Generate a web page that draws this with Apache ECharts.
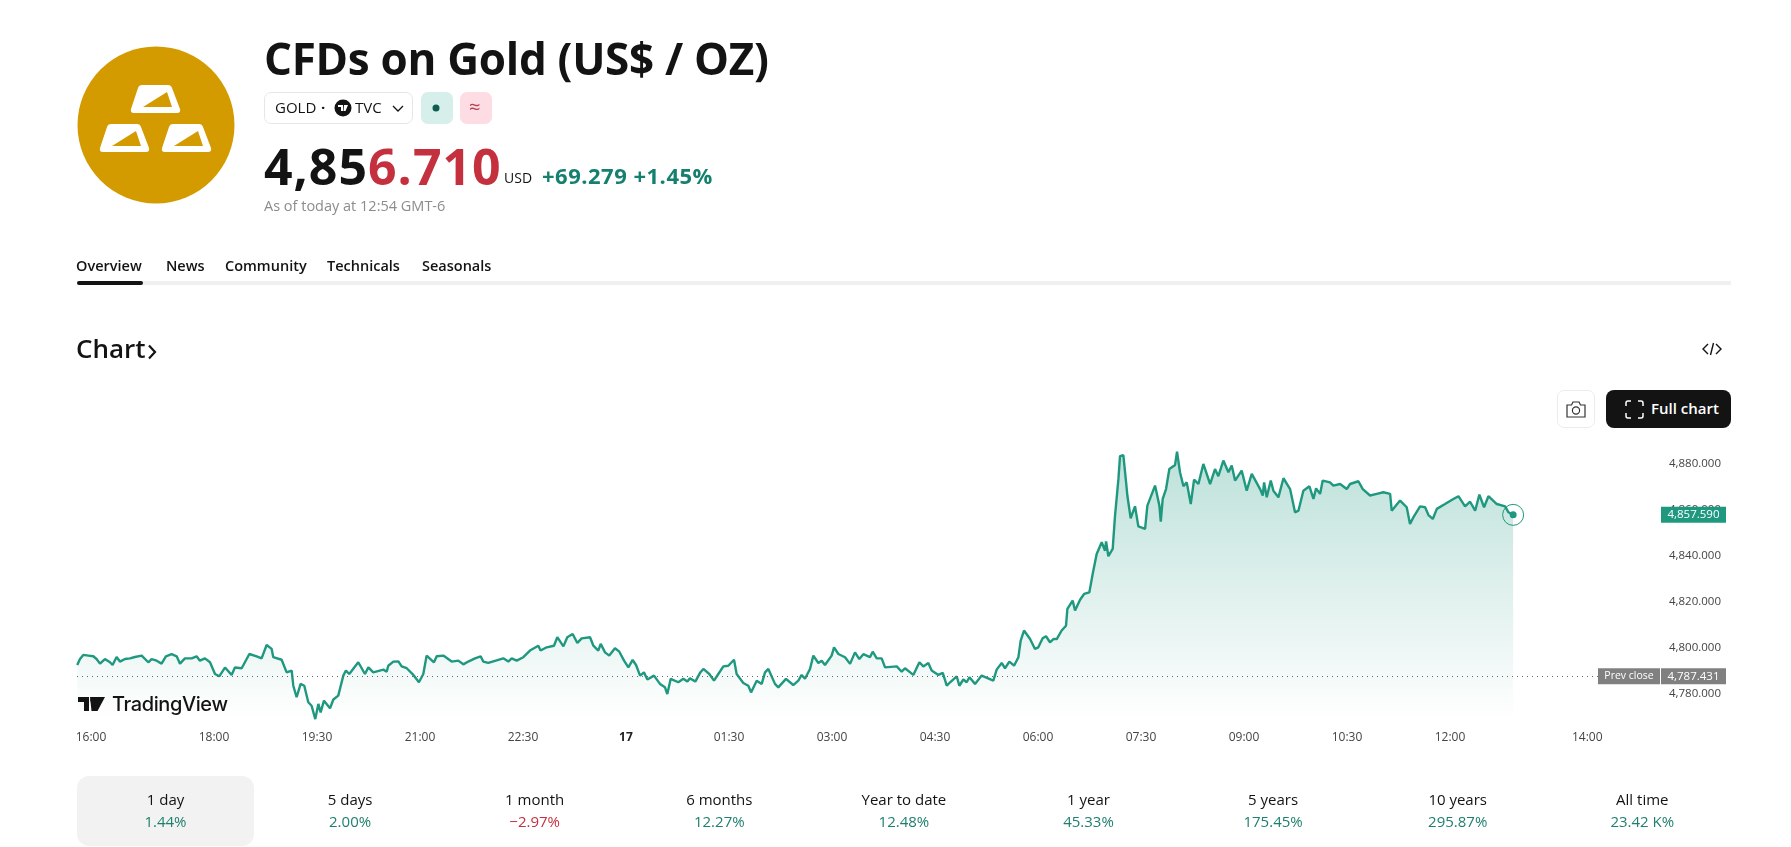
<!DOCTYPE html>
<html>
<head>
<meta charset="utf-8">
<title>CFDs on Gold (US$ / OZ)</title>
<script src="https://cdn.jsdelivr.net/npm/echarts@6/dist/echarts.min.js"></script>
<style>
  html, body { margin: 0; padding: 0; background: #fff; }
  body { width: 1791px; height: 847px; position: relative; overflow: hidden; font-family: "Open Sans", sans-serif; color: #131313; }
  #chart { position: absolute; left: 0; top: 0; width: 1791px; height: 847px; }
  .t { position: absolute; white-space: nowrap; line-height: 1; }
  .box { position: absolute; box-sizing: border-box; }
  svg { position: absolute; overflow: visible; }
  .period { position: absolute; top: 776px; width: 177px; height: 70px; border-radius: 12px; text-align: center; }
  .period.active { background: #f2f2f2; }
  .period .name { position: absolute; left: 0; right: 0; top: 15px; font-size: 15px; line-height: 16px; }
  .period .chg { position: absolute; left: 0; right: 0; top: 37px; font-size: 15px; line-height: 16px; }
  .up { color: #1f7f6e; }
  .down { color: #c5303f; }
</style>
</head>
<body>
<div id="chart"></div>

<!-- header -->
<svg style="left:0;top:0" width="300" height="220">
  <circle cx="156" cy="125" r="78.5" fill="#d39b00"/>
  <g id="bars"></g>
</svg>
<div class="t" style="left:264px;top:36px;font-size:44px;font-weight:700;letter-spacing:-.3px">CFDs on Gold (US$ / OZ)</div>

<div class="box" style="left:264px;top:92px;width:149px;height:32px;border:1px solid #e6e6e6;border-radius:7px"></div>
<div class="t" style="left:275px;top:100px;font-size:15px">GOLD</div>
<div class="t" style="left:321px;top:100px;font-size:15px;font-weight:700">·</div>
<svg style="left:334px;top:99px" width="18" height="18"><circle cx="9" cy="9" r="8.5" fill="#131313"/><path d="M4 6h5v6H7V8H4zM10 6h4l-2.5 6H9.5z" fill="#fff"/></svg>
<div class="t" style="left:355px;top:100px;font-size:15px">TVC</div>
<svg style="left:392px;top:105px" width="12" height="8"><path d="M1 1l5 5 5-5" fill="none" stroke="#131313" stroke-width="1.3"/></svg>
<div class="box" style="left:421px;top:92px;width:32px;height:32px;background:#d6efea;border-radius:7px"></div>
<svg style="left:431px;top:103px" width="10" height="10"><circle cx="5" cy="5" r="3.5" fill="#0e5d52"/></svg>
<div class="box" style="left:460px;top:92px;width:32px;height:32px;background:#fddde3;border-radius:7px"></div>
<div class="t" style="left:469px;top:97px;font-size:20px;color:#b8404e">≈</div>

<div class="t" style="left:264px;top:141px;font-size:50px;font-weight:700;letter-spacing:1px"><span>4,85</span><span style="color:#c5303f">6.710</span></div>
<div class="t" style="left:504px;top:171px;font-size:14px">USD</div>
<div class="t" style="left:542px;top:164px;font-size:22px;font-weight:700;letter-spacing:.5px;color:#15806d">+69.279 +1.45%</div>
<div class="t" style="left:264px;top:199px;font-size:14.5px;color:#8c8c8c">As of today at 12:54 GMT-6</div>

<!-- tabs -->
<div class="t" style="left:76px;top:259px;font-size:14.5px;font-weight:600">Overview</div>
<div class="t" style="left:166px;top:259px;font-size:14.5px;font-weight:600">News</div>
<div class="t" style="left:225px;top:259px;font-size:14.5px;font-weight:600">Community</div>
<div class="t" style="left:327px;top:259px;font-size:14.5px;font-weight:600">Technicals</div>
<div class="t" style="left:422px;top:259px;font-size:14.5px;font-weight:600">Seasonals</div>
<div class="box" style="left:77px;top:281px;width:1654px;height:4px;background:#f0f0f0"></div>
<div class="box" style="left:77px;top:281px;width:66px;height:4px;background:#131313;border-radius:2px"></div>

<div class="t" style="left:76px;top:335px;font-size:26px;font-weight:600">Chart</div>
<svg style="left:147px;top:344px" width="10" height="16"><path d="M2 1.5l6 6.5-6 6.5" fill="none" stroke="#131313" stroke-width="2.2"/></svg>
<svg style="left:1702px;top:342px" width="20" height="14"><path d="M6 2L1 7l5 5M14 2l5 5-5 5M11.5 1L8.5 13" fill="none" stroke="#131313" stroke-width="1.4"/></svg>

<!-- chart buttons -->
<div class="box" style="left:1557px;top:390px;width:38px;height:38px;border:1px solid #ececec;border-radius:7px"></div>
<svg style="left:1566px;top:401px" width="20" height="17"><path d="M1 4h4.5l1.5-3h6l1.5 3H19v12H1z" fill="none" stroke="#333" stroke-width="1.2"/><circle cx="10" cy="9.5" r="3.6" fill="none" stroke="#333" stroke-width="1.2"/></svg>
<div class="box" style="left:1606px;top:390px;width:125px;height:38px;background:#131313;border-radius:8px"></div>
<svg style="left:1625px;top:400px" width="19" height="19"><path d="M1 6V3a2 2 0 0 1 2-2h3M13 1h3a2 2 0 0 1 2 2v3M18 13v3a2 2 0 0 1-2 2h-3M6 18H3a2 2 0 0 1-2-2v-3" fill="none" stroke="#fff" stroke-width="1.5"/></svg>
<div class="t" style="left:1651px;top:401px;font-size:15px;font-weight:600;color:#fff">Full chart</div>

<!-- watermark -->
<svg style="left:78px;top:696px" width="30" height="16"><path d="M0 1h11v14H6V6H0zM12 1h15l-7.5 14h-6z" fill="#131313"/><circle cx="15" cy="4" r="2.600" fill="#131313"/></svg>
<div class="t" style="left:112px;top:694px;font-size:20px;font-weight:500;font-family:Inter,sans-serif;letter-spacing:-.4px">TradingView</div>

<div id="periods"></div>

<script>
var sessionMinutes = [
  -12, -9.6, -6.7, -2.3, 2, 4.9, 7.9, 12.2, 16.6, 18.9, 22.4, 25.3, 29.7, 34.1, 38.4, 44.3, 50.1, 53, 57.4, 61.7,
  65.5, 70.5, 74.9, 77.8, 82.1, 88, 92.3, 95.2, 99.6, 104, 108.4, 112.1, 117.1, 122.9, 125.8, 131.7, 138.4, 144.8, 149.1, 153.5,
  157.9, 159.3, 166.6, 171, 175.4, 176.8, 179.7, 183.2, 186.4, 189.9, 192.8, 196, 198.7, 200.7, 203.6, 208.9, 211.8, 216.1, 220.5, 222.8,
  225.7, 233.6, 239.4, 242.4, 246.7, 255.5, 258.4, 259.8, 264.2, 268.6, 271.5, 275.9, 281.7, 286.6, 290.4, 293.3, 299.7, 302.1, 307.9, 315.2,
  321, 325.4, 329.7, 335.6, 340.5, 342.8, 347.2, 351.6, 360.3, 364.7, 367.6, 372, 377.8, 383.6, 390.9, 392.9, 398.2, 404.6, 407.5, 412.8,
  416.2, 420.9, 425, 428.8, 436.1, 439, 443.3, 445.4, 449.2, 452.9, 457.9, 461.7, 465.8, 469.6, 473.3, 476.3, 479.8, 483.2, 486.2, 492,
  497.2, 501.6, 503.6, 506.6, 513.2, 517.6, 521.1, 523.4, 528.1, 532.2, 535.1, 540.3, 544.4, 548.2, 552.6, 556.9, 561.9, 564.2, 570, 574.4,
  576.8, 581.7, 586.1, 589, 591.9, 597.7, 600.6, 607.3, 613.7, 618.1, 621, 623.9, 628.3, 631.2, 635.6, 638.5, 641.4, 647.2, 649.3, 653.1,
  658.9, 663.3, 667.6, 671.4, 674.9, 680.7, 683.1, 686.6, 690.9, 693.9, 704.1, 708.4, 711.3, 718.6, 723.9, 727.3, 731.7, 734.6, 740.5, 744.3,
  747.8, 750.7, 756.5, 758.8, 762.3, 765.2, 767.6, 772.5, 778.3, 788.5, 791.4, 795.8, 798.7, 802.5, 806.6, 810.4, 812.4, 815.3, 820.6, 824.9,
  827.8, 831.6, 834.5, 838, 841, 843.9, 848.2, 852, 853.2, 857.8, 859.9, 864.3, 867.8, 872.4, 875.3, 878.8, 883.2, 886.1, 887, 889,
  892.8, 894.8, 897.8, 899.2, 902.1, 904.5, 905.6, 908.5, 912.3, 915.2, 921.1, 923.1, 929.8, 933.6, 934.8, 936.5, 939.4, 942.3, 947.3, 949,
  951.6, 954.6, 957.5, 961, 963.9, 967.7, 972, 977.9, 982.2, 985.1, 989.5, 993.9, 996.8, 999.7, 1005.5, 1009.9, 1014.3, 1021.6, 1023.9, 1025.1,
  1027.4, 1030.9, 1033.2, 1037.6, 1042, 1047.8, 1052.1, 1055.1, 1059.4, 1064.7, 1068.2, 1070.5, 1074, 1076.3, 1082.7, 1085.6, 1091.5, 1097.3, 1100.2, 1107.5,
  1111.3, 1117.7, 1123.5, 1129.3, 1135.2, 1136.6, 1143.9, 1149.7, 1152.6, 1155.5, 1161.4, 1165.8, 1168.7, 1172.5, 1176, 1183.2, 1190.5, 1194.9, 1200.7, 1205.1,
  1209.5, 1213.2, 1217.3, 1221.1, 1228.4, 1235.7, 1238.6, 1242.7
];
var prices = [
  4792.3, 4794.9, 4796.7, 4796.4, 4796.1, 4794.9, 4792.9, 4794.9, 4793.5, 4792.3, 4795.8, 4793.8, 4794.9, 4795.2, 4795.8, 4796.4, 4793.5, 4794.9, 4794.2, 4792.9,
  4796.1, 4797, 4796.1, 4792.9, 4795.2, 4795.2, 4796.1, 4794.2, 4795.2, 4793.5, 4788.4, 4787.4, 4791.2, 4788, 4791.2, 4790.9, 4797.1, 4796.1, 4795.2, 4801,
  4799.3, 4795.7, 4794.6, 4789.1, 4789.9, 4783.3, 4778.3, 4784.1, 4783.3, 4776.1, 4774.6, 4768.8, 4775.4, 4771.7, 4776.8, 4773.5, 4777.3, 4779, 4787.7, 4789.9,
  4788.4, 4793.5, 4788.4, 4791.3, 4789.1, 4790.3, 4789.4, 4792, 4793.8, 4793.9, 4791.7, 4790.9, 4788, 4784.8, 4788.4, 4796.4, 4793.5, 4796.1, 4796.4, 4793.8,
  4794.2, 4792.6, 4793.8, 4795.2, 4796.1, 4793.8, 4793.2, 4793.9, 4795.2, 4793.8, 4795.2, 4794.2, 4795.7, 4798.6, 4800.7, 4798.6, 4800, 4800.7, 4804.4, 4800.4,
  4804.4, 4805.8, 4801.9, 4803.9, 4804.4, 4800.7, 4798.6, 4801.5, 4797.8, 4796.4, 4799.6, 4798.1, 4794.2, 4791.3, 4794.5, 4792.3, 4787.7, 4789.1, 4786, 4787.7,
  4784.1, 4782.6, 4779.7, 4786.3, 4784.8, 4786.3, 4785.1, 4786.5, 4785.1, 4788.9, 4790.6, 4788.4, 4785.5, 4788.4, 4791.7, 4792, 4794.6, 4788.4, 4784.5, 4783.3,
  4780.4, 4785.5, 4784.1, 4789.1, 4790.6, 4784.1, 4782.6, 4786.3, 4783.6, 4785.5, 4788, 4786.3, 4790.6, 4796.4, 4793.2, 4794.2, 4792.3, 4796.4, 4800, 4797.1,
  4795.7, 4792.8, 4797.8, 4794.9, 4797, 4795.7, 4798.1, 4795.2, 4795.2, 4791.3, 4791.7, 4789.4, 4790.9, 4788, 4793.5, 4791.7, 4793.2, 4789.9, 4788, 4788.9,
  4783.3, 4784.8, 4787.4, 4783.3, 4786, 4784.8, 4787, 4784.1, 4787.7, 4785.5, 4790.3, 4793.2, 4790.9, 4793.8, 4792, 4795.7, 4802.9, 4807.3, 4803.6, 4799.3,
  4800, 4803.9, 4804.8, 4802.2, 4803.6, 4803.6, 4807.3, 4809.4, 4816.7, 4820.3, 4816, 4820.7, 4823.2, 4823.9, 4831.9, 4840.6, 4845.7, 4842, 4846, 4839.6,
  4842.8, 4857, 4873.2, 4883.1, 4883.6, 4871.7, 4866, 4856.1, 4861.3, 4852.6, 4851.5, 4861.6, 4870.3, 4861.6, 4854.6, 4864.5, 4868.8, 4877.5, 4879.3, 4885.1,
  4876.1, 4870, 4871.7, 4862.3, 4872.9, 4871, 4879.7, 4871, 4877.5, 4874.4, 4881.2, 4876.1, 4879, 4872.5, 4876.8, 4868.1, 4875.4, 4868.8, 4866, 4871.7,
  4865.2, 4872.5, 4868.1, 4865.2, 4873.5, 4868.8, 4858.7, 4859.4, 4868.1, 4870, 4864.5, 4869.1, 4866.7, 4872.5, 4871.7, 4870.3, 4871, 4868.8, 4871, 4872.2,
  4868.8, 4866, 4866.7, 4867.4, 4866.7, 4859.4, 4863.8, 4860.9, 4853.6, 4856.5, 4861.3, 4860.9, 4857.5, 4855.8, 4860.2, 4862.3, 4864.5, 4865.7, 4861.3, 4863.3,
  4859.4, 4866.4, 4860.9, 4865.7, 4862.3, 4861.3, 4858.7, 4857.59
];
var timeTicks = [0, 107.5, 197.5, 287.5, 377.5, 467.5, 557.5, 647.5, 737.5, 827.5, 917.5, 1007.5, 1097.5, 1187.5, 1307.5];
var timeLabels = ['16:00', '18:00', '19:30', '21:00', '22:30', '17', '01:30', '03:00', '04:30', '06:00', '07:30', '09:00', '10:30', '12:00', '14:00'];
var priceTicks = [4780, 4800, 4820, 4840, 4860, 4880];
var lastPrice = 4857.59;
var prevClose = 4787.431;
var periodNames = ['1 day', '5 days', '1 month', '6 months', 'Year to date', '1 year', '5 years', '10 years', 'All time'];
var periodChanges = ['1.44%', '2.00%', '−2.97%', '12.27%', '12.48%', '45.33%', '175.45%', '295.87%', '23.42 K%'];

var GREEN = '#1f9880';
var GREY = '#808080';
var xMin = -12.2, xMax = 1428.7;

// gold bars in the logo, same shape three times
var barsHtml = '';
[[130, 83], [99, 122], [161, 122]].forEach(function (p) {
  barsHtml += '<g transform="translate(' + p[0] + ',' + p[1] + ')">' +
    '<path d="M12 2h26q3 0 4 3l8 21q1 4-3 4H4q-4 0-3-4L8 5q1-3 4-3z" fill="#fff"/>' +
    '<path d="M37 9l5 15H13z" fill="#d39b00"/></g>';
});
document.getElementById('bars').innerHTML = barsHtml;

var periodsHtml = '';
periodNames.forEach(function (name, i) {
  var cls = periodChanges[i].charAt(0) === '−' ? 'down' : 'up';
  periodsHtml += '<div class="period' + (i === 0 ? ' active' : '') + '" style="left:' + (77 + i * 184.6) + 'px">' +
    '<div class="name">' + name + '</div><div class="chg ' + cls + '">' + periodChanges[i] + '</div></div>';
});
document.getElementById('periods').innerHTML = periodsHtml;

function fmtPrice(v) {
  return v.toLocaleString('en-US', { minimumFractionDigits: 3, maximumFractionDigits: 3 });
}

var lineData = sessionMinutes.map(function (m, i) {
  return [m, prices[i]];
});
var lastMinute = sessionMinutes[sessionMinutes.length - 1];

var chart = echarts.init(document.getElementById('chart'));
chart.setOption({
  animation: false,
  grid: { left: 77, top: 440, width: 1649, height: 280 },
  xAxis: {
    type: 'value',
    min: xMin,
    max: xMax,
    axisLine: { show: false },
    axisTick: { show: false },
    splitLine: { show: false },
    axisLabel: {
      customValues: timeTicks,
      margin: 12,
      fontFamily: 'Open Sans',
      fontSize: 12,
      color: '#444',
      formatter: function (v) {
        var label = timeLabels[timeTicks.indexOf(v)];
        return label === '17' ? '{day|17}' : label;
      },
      rich: { day: { fontFamily: 'Open Sans', fontSize: 12, fontWeight: 700, color: '#222' } }
    }
  },
  yAxis: {
    type: 'value',
    position: 'right',
    min: 4768.4,
    max: 4890.13,
    axisLine: { show: false },
    axisTick: { show: false },
    splitLine: { show: false },
    axisLabel: {
      inside: true,
      margin: 5,
      padding: [2, 0, 0, 0],
      customValues: priceTicks,
      fontFamily: 'Open Sans',
      fontSize: 11.5,
      color: '#444',
      formatter: fmtPrice
    }
  },
  series: [{
    type: 'line',
    data: lineData,
    showSymbol: false,
    smooth: false,
    sampling: false,
    lineStyle: { color: GREEN, width: 2.4 },
    areaStyle: {
      origin: 'start',
      color: new echarts.graphic.LinearGradient(0, 0, 0, 1, [
        { offset: 0, color: 'rgba(31,152,128,0.42)' },
        { offset: 1, color: 'rgba(31,152,128,0)' }
      ])
    },
    markLine: {
      silent: true,
      symbol: 'none',
      label: { show: false },
      lineStyle: { color: '#666', type: [1, 4], width: 1 },
      data: [[{ coord: [xMin, prevClose] }, { coord: [1326, prevClose] }]]
    },
    markPoint: {
      silent: true,
      data: [
        {
          coord: [lastMinute, lastPrice], symbol: 'circle', symbolSize: 21,
          itemStyle: { color: 'rgba(255,255,255,0)', borderColor: GREEN, borderWidth: 1 },
          label: { show: false }
        },
        {
          coord: [lastMinute, lastPrice], symbol: 'circle', symbolSize: 7,
          itemStyle: { color: GREEN },
          label: { show: false }
        },
        {
          coord: [xMax, lastPrice], symbol: 'rect', symbolSize: [65, 16], symbolOffset: [-32.5, 0],
          itemStyle: { color: GREEN },
          label: { show: true, position: 'inside', formatter: fmtPrice(lastPrice), color: '#fff', fontFamily: 'Open Sans', fontSize: 11.5 }
        },
        {
          coord: [xMax, prevClose], symbol: 'rect', symbolSize: [65, 16], symbolOffset: [-32.5, 0],
          itemStyle: { color: GREY },
          label: { show: true, position: 'inside', formatter: fmtPrice(prevClose), color: '#fff', fontFamily: 'Open Sans', fontSize: 11.5 }
        },
        {
          coord: [xMax, prevClose], symbol: 'rect', symbolSize: [62, 16], symbolOffset: [-97, 0],
          itemStyle: { color: GREY },
          label: { show: true, position: 'inside', formatter: 'Prev close', color: '#fff', fontFamily: 'Open Sans', fontSize: 10.5 }
        }
      ]
    }
  }]
});
</script>
</body>
</html>
